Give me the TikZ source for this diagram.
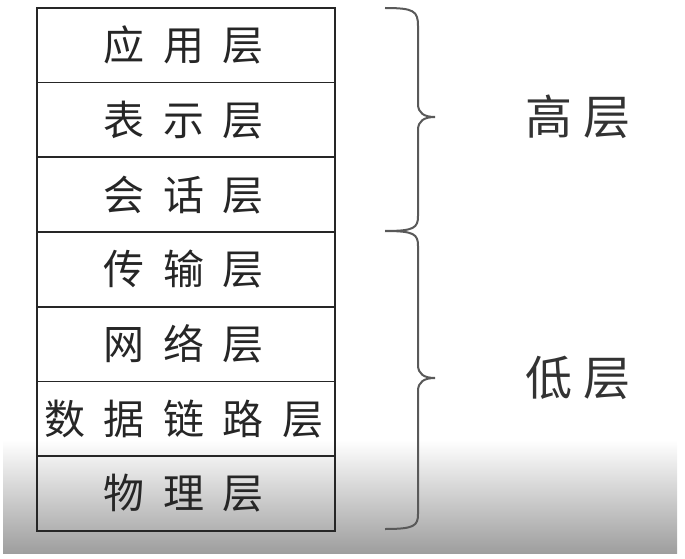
\documentclass[tikz,border=0pt]{standalone}
\usepackage{fontspec}
\newfontfamily\cjk[LetterSpace=45]{Noto Sans CJK SC}
\newfontfamily\cjklab[LetterSpace=22]{Noto Sans CJK SC}
\begin{document}
\begin{tikzpicture}[x=1pt,y=-1pt,
  layer/.style={draw=black!85,line width=1.8pt,minimum width=298pt,minimum height=74.7pt,
    inner sep=0pt,anchor=north west,font=\cjk\fontsize{41}{44}\selectfont,text=black!85},
  bracel/.style={draw=black!65,line width=2pt},
  lab/.style={font=\cjklab\fontsize{47}{50}\selectfont,text=black!80}]
\useasboundingbox (0,0) rectangle (685,559);
\shade[top color=white,bottom color=black!38] (3,440) rectangle (677,553);
\foreach \t [count=\i from 0] in {应用层,表示层,会话层,传输层,网络层,数据链路层,物理层}{
  \node[layer] (L\i) at (36,{7+\i*74.7}) {\hspace*{-4pt}\t};
}
\coordinate (b1s) at (385,8);
\coordinate (b1t) at (435,117);
\coordinate (b1e) at (385,231);
\coordinate (b2t) at (435,378);
\coordinate (b2e) at (385,529);
\draw[bracel] (b1s) .. controls (414,8) and (418,11) .. (418,26) -- (418,104)
  .. controls (418,113) and (424,117) .. (b1t)
  .. controls (424,117) and (418,121) .. (418,130) -- (418,216)
  .. controls (418,228) and (414,231) .. (b1e);
\draw[bracel] (b1e) .. controls (414,231) and (418,234) .. (418,246) -- (418,365)
  .. controls (418,374) and (424,378) .. (b2t)
  .. controls (424,378) and (418,382) .. (418,391) -- (418,514)
  .. controls (418,526) and (414,529) .. (b2e);
\node[lab] (hi) at (578,117) {高层};
\node[lab] (lo) at (578,378) {低层};
\end{tikzpicture}
\end{document}
